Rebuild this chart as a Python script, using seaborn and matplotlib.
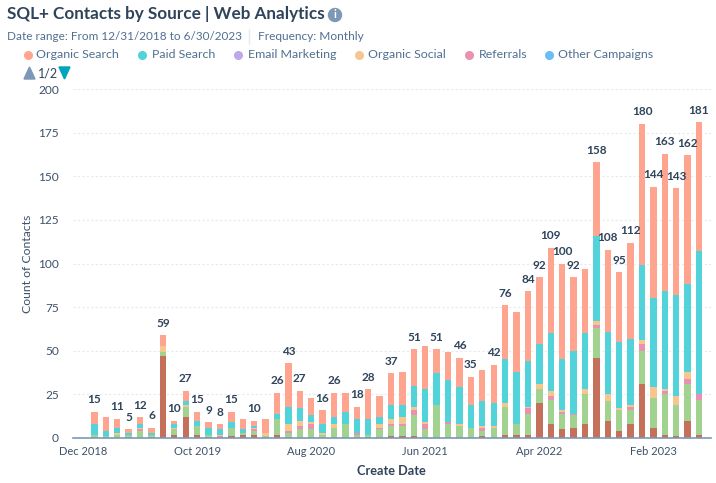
import numpy as np
import pandas as pd
import seaborn as sns
import matplotlib.pyplot as plt
from matplotlib.lines import Line2D
from matplotlib.patches import Circle, Polygon

W, H = 716, 483

# monthly contacts per source, stacked bottom to top
months = pd.date_range("2018-12-01", periods=55, freq="MS").strftime("%b %Y").tolist()
offline = [0,0,0,0,0,0,0,47,2,12,2,0,0,1,2,2,0,2,0,0,0,0,0,0,0,0,0,1,1,1,0,0,0,0,0,1,0,2,2,2,20,8,5,6,8,46,10,4,8,31,6,2,1,10,2]
direct = [0,2,1,2,2,4,2,2,3,6,5,2,0,5,1,2,1,9,3,5,5,2,6,8,2,2,5,6,6,12,5,19,8,7,6,3,6,16,6,12,8,14,9,7,17,17,11,12,8,19,17,23,18,21,20]
referrals = [0,0,0,0,0,1,0,0,0,0,0,0,1,0,0,1,0,0,1,2,3,0,0,0,1,0,1,1,1,3,3,0,1,0,0,2,0,0,0,3,0,2,1,1,0,2,0,0,2,4,0,2,0,3,3]
organic_social = [0,0,0,1,0,1,0,4,1,1,0,0,1,0,0,1,2,0,4,3,1,1,2,0,0,0,2,3,4,2,1,0,0,1,0,1,1,2,0,1,3,3,1,0,3,2,4,1,1,2,6,1,5,4,0]
paid_search = [0,6,3,3,1,2,1,0,2,2,3,4,3,3,2,1,0,3,10,7,4,5,4,7,8,9,4,8,7,12,19,18,24,21,13,14,13,25,30,26,23,33,29,36,32,49,36,38,38,43,51,56,58,50,82]
organic_search = [0,7,8,5,2,4,3,6,2,6,5,3,3,6,6,3,8,12,25,10,10,8,14,11,7,17,12,18,19,21,25,14,16,17,16,18,22,31,34,40,38,49,55,42,37,42,47,40,55,81,64,79,61,74,74]

# the chart leaves out some labels where they would collide
hidden_labels = [0, 2, 14, 16, 20, 23, 26, 28, 30, 32, 35, 38, 44]
tick_months = [0, 10, 20, 30, 40, 50]
y_ticks = [0, 25, 50, 75, 100, 125, 150, 175, 200]

legend_names = ["Organic Search", "Paid Search", "Email Marketing", "Organic Social", "Referrals", "Other Campaigns"]
legend_colors = ["#FFA58F", "#51D3D9", "#BDA9EA", "#F5C78E", "#EA90B1", "#6BBDF5"]
legend_dot_x = [28, 142, 238, 359, 469, 549]
legend_text_x = [36, 152, 248, 368, 479, 558]

DARK = "#2F435A"
SLATE = "#516F90"
AXIS_TEXT = "#3D5169"
GRID = "#E5E9F0"

sns.set_theme(style="white")
plt.rcParams["font.family"] = ["Lato", "DejaVu Sans"]

fig = plt.figure(figsize=(W / 100, H / 100), dpi=100)
ax = fig.add_axes([73 / W, 1 - 438 / H, (711 - 73) / W, (438 - 89) / H])

stack = [
    (offline, "#C4705A"),
    (direct, "#A2D28F"),
    (referrals, "#EA90B1"),
    (organic_social, "#F5C78E"),
    (paid_search, "#51D3D9"),
    (organic_search, "#FFA58F"),
]
bottoms = np.zeros(len(months))
for values, color in stack:
    sns.barplot(x=months, y=values, bottom=bottoms, color=color, width=0.56,
                saturation=1, linewidth=0, ax=ax, zorder=3)
    bottoms = bottoms + np.array(values)

for i, total in enumerate(bottoms):
    if i in hidden_labels:
        continue
    ax.annotate(str(int(total)), (i, total), xytext=(0, 8.6), textcoords="offset points",
                ha="center", va="center", fontsize=8.5, fontweight="bold", color=DARK, zorder=5)

ax.set_xlim(-0.88, 55.05)
ax.set_ylim(0, 200)
ax.set_yticks(y_ticks)
ax.set_xticks(tick_months)
ax.set_xticklabels([months[i] for i in tick_months])
ax.tick_params(axis="x", direction="in", length=5, width=1, color="#7C98B6",
               labelsize=8, labelcolor=AXIS_TEXT, pad=6)
ax.tick_params(axis="y", length=0, labelsize=8.6, labelcolor=AXIS_TEXT, pad=10)
ax.yaxis.grid(True, color=GRID, linestyle=(0, (2, 2)), linewidth=0.8, zorder=0)
ax.set_axisbelow(True)
sns.despine(ax=ax, left=True)
ax.spines["bottom"].set_color("#7C98B6")
ax.spines["bottom"].set_linewidth(1.2)
ax.spines["bottom"].set_zorder(6)

ax.set_xlabel("")
ax.set_ylabel("")
fig.text(391 / W, 1 - 471 / H, "Create Date", ha="center", va="center",
         fontsize=9.2, fontweight="bold", color=DARK)
fig.text(28 / W, 1 - 264 / H, "Count of Contacts", rotation=90, ha="center", va="center",
         fontsize=8.8, color=AXIS_TEXT)

# header
fig.text(7 / W, 1 - 14 / H, "SQL+ Contacts by Source | Web Analytics", ha="left", va="center",
         fontsize=12.3, fontweight="bold", color=DARK)
fig.add_artist(Circle((3.35, (H - 15) / 100), 0.065, transform=fig.dpi_scale_trans,
                      color="#7C98B6"))
fig.text(335 / W, 1 - 15 / H, "i", ha="center", va="center", fontsize=8, fontweight="bold", color="white")
fig.text(7 / W, 1 - 36 / H, "Date range: From 12/31/2018 to 6/30/2023", ha="left", va="center",
         fontsize=8.5, color=SLATE)
fig.add_artist(Line2D([249 / W, 249 / W], [1 - 29 / H, 1 - 44 / H], color=GRID, linewidth=1))
fig.text(258 / W, 1 - 36 / H, "Frequency: Monthly", ha="left", va="center", fontsize=8.6, color=SLATE)

# legend, first page of two
for name, color, dot_x, text_x in zip(legend_names, legend_colors, legend_dot_x, legend_text_x):
    fig.add_artist(Line2D([dot_x / W], [1 - 55 / H], marker="o", markersize=5.5, color=color,
                          linestyle="none"))
    fig.text(text_x / W, 1 - 55 / H, name, ha="left", va="center", fontsize=8.9, color=SLATE)

fig.add_artist(Polygon([[24 / W, 1 - 79 / H], [35 / W, 1 - 79 / H], [29.5 / W, 1 - 67 / H]],
                       closed=True, color="#7C98B6", transform=fig.transFigure))
fig.text(38 / W, 1 - 73 / H, "1/2", ha="left", va="center", fontsize=9, color=DARK)
fig.add_artist(Polygon([[59 / W, 1 - 67 / H], [70 / W, 1 - 67 / H], [64.5 / W, 1 - 79 / H]],
                       closed=True, color="#00A4BD", transform=fig.transFigure))

fig.savefig("out.png", dpi=100)
